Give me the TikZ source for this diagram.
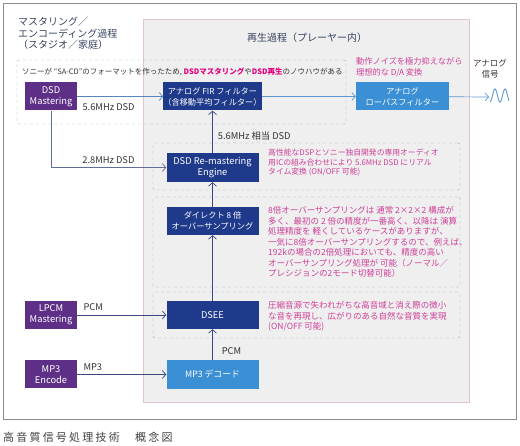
\documentclass[tikz,border=0pt]{standalone}
\usepackage{fontspec}
\setmainfont{Noto Sans CJK JP}
\newfontfamily\capfont[LetterSpace=20]{Noto Sans CJK JP}
\usepackage{xcolor}
\usetikzlibrary{arrows.meta,positioning}
\definecolor{mastpurple}{HTML}{5E2F86}
\definecolor{engnavy}{HTML}{1F3A8A}
\definecolor{outblue}{HTML}{3B8FD5}
\definecolor{notepink}{HTML}{CF3F98}
\definecolor{hipink}{HTML}{E2007F}
\definecolor{dashblue}{HTML}{8FAFD0}
\definecolor{playgray}{HTML}{EFEFEF}
\definecolor{playedge}{HTML}{E2C3D2}
\definecolor{linenavy}{HTML}{3A4A80}
\definecolor{lineblue}{HTML}{5B96D2}
\definecolor{titlenavy}{HTML}{36425F}

\begin{document}
\begin{tikzpicture}[
    x=1pt, y=-1pt,
    >={Straight Barb[length=3.5pt,width=8pt]},
    font=\fontsize{8}{10}\selectfont,
    mast/.style={rectangle,fill=mastpurple,text=white,minimum width=52pt,minimum height=28pt,inner sep=0pt,align=center,font=\fontsize{9.3}{11}\selectfont},
    eng/.style={rectangle,fill=engnavy,text=white,minimum width=92pt,minimum height=28pt,inner sep=0pt,align=center,font=\fontsize{8.2}{11}\selectfont},
    outbox/.style={eng,fill=outblue},
    group/.style={rectangle,draw=dashblue,dashed,rounded corners=2pt,inner sep=0pt},
    note/.style={text=notepink,align=left,inner sep=0pt,font=\fontsize{8.5}{10.5}\selectfont},
    lbl/.style={text=black!80,inner sep=0pt,font=\fontsize{9.3}{10}\selectfont},
    sig/.style={->,draw=linenavy,line width=0.7pt},
    outsig/.style={->,draw=lineblue,line width=0.7pt},
]
\useasboundingbox (0,0) rectangle (520,446);

% ---- frame and playback area ----
\node[rectangle,draw=black!45,line width=0.8pt,minimum width=513pt,minimum height=416pt,inner sep=0pt] (frame) at (259.5,211) {};
\node[rectangle,fill=playgray,draw=playedge,minimum width=326pt,minimum height=383pt,inner sep=0pt] (play) at (306,210.5) {};
\node[text=titlenavy,font=\fontsize{10}{12}\selectfont] (playtitle) at (307,38) {再生過程（プレーヤー内）};
\node[text=titlenavy,anchor=north west,align=left,inner sep=0pt,font=\fontsize{10}{11.5}\selectfont] (masttitle) at (18,17) {マスタリング／\\エンコーディング過程\\（スタジオ／家庭）};

% ---- dashed groups ----
\node[group,minimum width=329pt,minimum height=64pt] (grpdsd) at (181.5,92) {};
\node[group,minimum width=307pt,minimum height=47pt] (grpremas) at (306.5,166.5) {};
\node[group,minimum width=307pt,minimum height=90pt] (grpover) at (306.5,242) {};
\node[group,minimum width=307pt,minimum height=46pt] (grpdsee) at (306.5,315) {};

% ---- sources ----
\node[mast] (dsdmast) at (51,96.5) {DSD\\Mastering};
\node[mast] (lpcmmast) at (51,315) {LPCM\\Mastering};
\node[mast] (mp3enc) at (51,374.5) {MP3\\Encode};

% ---- player chain ----
\node[eng] (fir) at (212.5,96.5) {アナログ FIR フィルター\\（含移動平均フィルター）};
\node[eng,minimum height=29pt,font=\fontsize{9.3}{11.5}\selectfont] (remast) at (212.5,167.5) {DSD Re-mastering\\Engine};
\node[eng] (over) at (212.5,221) {ダイレクト 8 倍\\オーバーサンプリング};
\node[eng,font=\fontsize{9.3}{11}\selectfont] (dsee) at (212.5,315) {DSEE};
\node[outbox,minimum height=29pt,font=\fontsize{8.8}{11}\selectfont] (mp3dec) at (212.5,374.5) {MP3 デコード};
\node[outbox,minimum width=93pt] (lpf) at (402.5,96.5) {アナログ\\ローパスフィルター};

% ---- notes ----
\node[text=black!80,inner sep=0pt,anchor=west,font=\fontsize{7.5}{10}\selectfont] (sacd) at (22,72) {ソニーが “SA-CD”のフォーマットを作ったため, {\color{hipink}\bfseries DSDマスタリング}や{\color{hipink}\bfseries DSD再生}のノウハウがある};
\node[note,anchor=north west,font=\fontsize{8.2}{11}\selectfont] (danote) at (356,57) {動作ノイズを極力抑えながら\\理想的な D/A 変換};
\node[text=black!80,inner sep=0pt,align=center,font=\fontsize{8.5}{11}\selectfont] (analog) at (490,68.5) {アナログ\\信号};
\node[note,anchor=west,font=\fontsize{7.8}{9.5}\selectfont] (remastnote) at (268,162.5) {高性能なDSPとソニー独自開発の専用オーディオ\\用ICの組み合わせにより 5.6MHz DSD にリアル\\タイム変換 (ON/OFF 可能)};
\node[note,anchor=west] (overnote) at (268,242) {8倍オーバーサンプリングは 通常 2×2×2 構成が\\多く、最初の 2 倍の精度が一番高く、以降は 演算\\処理精度を 軽くしているケースがありますが、\\一気に8倍オーバーサンプリングするので、例えば、\\192kの場合の2倍処理においても、精度の高い\\オーバーサンプリング処理が 可能（ノーマル／\\プレシジョンの2モード切替可能）};
\node[note,anchor=west] (deenote) at (268,316.5) {圧縮音源で失われがちな高音域と消え際の微小\\な音を再現し、広がりのある自然な音質を実現\\(ON/OFF 可能)};

% ---- analog output wave ----
\coordinate (wave) at (489,97);
\draw[lineblue,line width=0.9pt,domain=0:19,samples=50,smooth,variable=\t]
    plot ({490+\t},{95.5+6.5*cos(\t*36)});

% ---- signal paths ----
\draw[sig,draw=lineblue!80!linenavy] (dsdmast) -- (fir)
    node[lbl,anchor=north west,at start,xshift=5pt,yshift=-7pt] (lbl56) {5.6MHz DSD};
\draw[sig,draw=linenavy!80] (dsdmast) |- (remast)
    node[lbl,anchor=south west,pos=0.5,xshift=31pt,yshift=4pt] (lbl28) {2.8MHz DSD};
\draw[outsig] (fir) -- (lpf);
\draw[outsig] (lpf) -- (wave);
\draw[sig] (remast) -- (fir)
    node[lbl,right=5pt,pos=0.4] (lbl56b) {5.6MHz 相当 DSD};
\draw[sig] (over) -- (remast);
\draw[sig] (dsee) -- (over);
\draw[sig] (mp3dec) -- (dsee)
    node[lbl,right=9pt,pos=0.3] (lblpcm) {PCM};
\draw[sig] (lpcmmast) -- (dsee)
    node[lbl,anchor=south west,at start,xshift=6pt,yshift=4pt] (lbllpcm) {PCM};
\draw[sig] (mp3enc) -- (mp3dec)
    node[lbl,anchor=south west,at start,xshift=6pt,yshift=4pt] (lblmp3) {MP3};

% ---- caption ----
\node[anchor=west,inner sep=0pt,text=black!75,font=\capfont\fontsize{11}{12}\selectfont] (caption) at (3,437) {高音質信号処理技術　概念図};
\end{tikzpicture}
\end{document}
